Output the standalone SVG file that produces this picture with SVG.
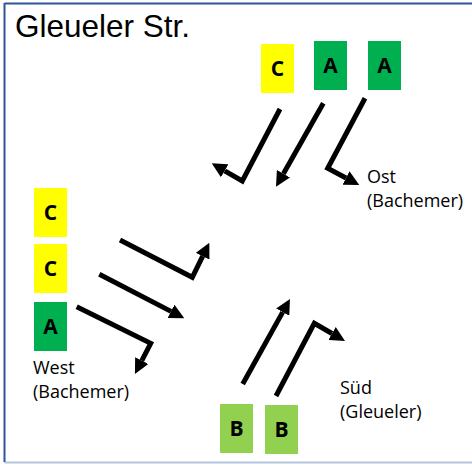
<svg xmlns="http://www.w3.org/2000/svg" width="472" height="465" viewBox="0 0 472 465">
<defs>
<marker id="ah" viewBox="0 0 10 10" refX="0" refY="5" markerWidth="3" markerHeight="3" orient="auto" markerUnits="strokeWidth">
<path d="M0,0 L10,5 L0,10 z" fill="#000"/>
</marker>
<style>
.arr{fill:none;stroke:#000;stroke-width:5;stroke-linejoin:miter;stroke-miterlimit:10;marker-end:url(#ah)}
.lbl{font-family:"Open Sans","Noto Sans",sans-serif;font-size:18px;fill:#000}
.bx{font-family:"Open Sans","Noto Sans",sans-serif;font-size:21px;font-weight:bold;fill:#000;text-anchor:middle}
.y{fill:#FFFF00}.g{fill:#00B050}.lg{fill:#92D050}
</style>
</defs>
<rect x="0" y="0" width="472" height="465" fill="#fff"/>
<g id="frame">
<line x1="4.5" y1="462.5" x2="472" y2="462.5" stroke="#B4C3DC" stroke-width="2"/>
<line x1="4.5" y1="3.5" x2="472" y2="3.5" stroke="#2F5597" stroke-width="2"/>
<line x1="4.5" y1="3" x2="4.5" y2="462" stroke="#2F5597" stroke-width="2"/>
</g>
<text id="title" x="15" y="37" font-family="Liberation Sans, Arial, sans-serif" font-size="31.5" fill="#000">Gleueler Str.</text>
<g id="ost-C"><rect class="y" x="261" y="44" width="33" height="49"/><text class="bx" x="277.5" y="76">C</text></g>
<g id="ost-A1"><rect class="g" x="314" y="41" width="33" height="49"/><text class="bx" x="330.5" y="73">A</text></g>
<g id="ost-A2"><rect class="g" x="368" y="41" width="33" height="49"/><text class="bx" x="384.5" y="73">A</text></g>
<g id="west-C1"><rect class="y" x="34" y="188" width="33" height="49"/><text class="bx" x="50.5" y="220">C</text></g>
<g id="west-C2"><rect class="y" x="34" y="244" width="33" height="49"/><text class="bx" x="50.5" y="276">C</text></g>
<g id="west-A"><rect class="g" x="34" y="302" width="33" height="49"/><text class="bx" x="50.5" y="334">A</text></g>
<g id="sued-B1"><rect class="lg" x="220" y="404" width="33" height="49"/><text class="bx" x="236.5" y="436">B</text></g>
<g id="sued-B2"><rect class="lg" x="265" y="405" width="33" height="49"/><text class="bx" x="281.5" y="437">B</text></g>
<g id="labels">
<text class="lbl" x="367" y="183">Ost</text>
<text class="lbl" x="367" y="207">(Bachemer)</text>
<text class="lbl" x="33" y="374">West</text>
<text class="lbl" x="33" y="398">(Bachemer)</text>
<text class="lbl" x="340" y="394">Süd</text>
<text class="lbl" x="340" y="418">(Gleueler)</text>
</g>
<g id="connectors">
<polyline class="arr" points="280,109 242.3,181 224.7,170.8"/>
<polyline class="arr" points="323.3,103.3 283.4,173.7"/>
<polyline class="arr" points="365,98.3 327.7,168.3 346,178"/>
<polyline class="arr" points="120,240 192.3,277.3 202.7,256.2"/>
<polyline class="arr" points="99.3,274.3 171,311.4"/>
<polyline class="arr" points="76.7,306.7 150.7,343.3 141.8,360.6"/>
<polyline class="arr" points="242.7,384 282.7,312.1"/>
<polyline class="arr" points="276,396 314.3,323.3 332,333.5"/>
</g>
</svg>
